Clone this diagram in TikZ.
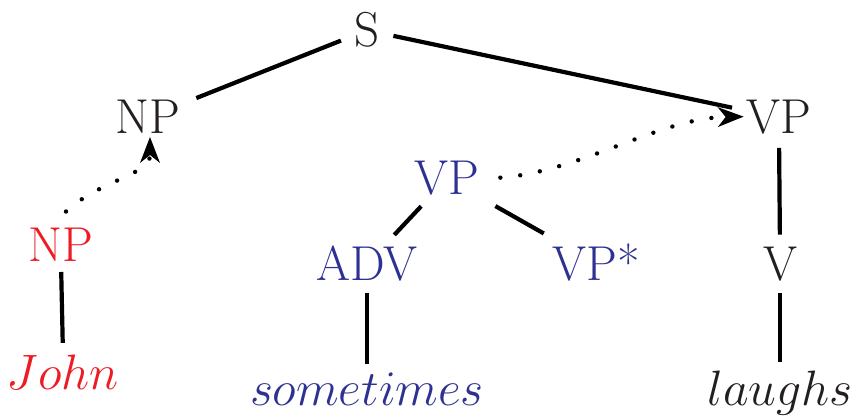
\documentclass[tikz,border=0pt]{standalone}
\usetikzlibrary{arrows.meta}
\definecolor{tred}{RGB}{237,28,36}
\definecolor{tblue}{RGB}{46,49,146}
\definecolor{tblack}{RGB}{35,31,32}
\begin{document}
\begin{tikzpicture}[x=0.5pt,y=-0.5pt,
  lab/.style={anchor=base,inner sep=0pt,outer sep=0pt,font=\fontsize{24.5}{28}\selectfont},
  edge/.style={line width=2.1pt,black},
  dots/.style={line width=2.2pt,line cap=round,dash pattern=on 0pt off 10pt,black},
  tip/.style={-{Stealth[length=13pt,width=10pt,inset=4pt,line width=0pt]}}]
\useasboundingbox (0,0) rectangle (853,416);
% nodes (placed at their baselines)
\node[lab,text=tblack] (S)   at (367,47)  {S};
\node[lab,text=tblack] (NPb) at (148,134) {NP};
\node[lab,text=tblack] (VPk) at (779,134) {VP};
\node[lab,text=tblue]  (VPb) at (447,195) {VP};
\node[lab,text=tred]   (NPr) at (61,262)  {NP};
\node[lab,text=tblue]  (ADV) at (367,281) {ADV};
\node[lab,text=tblue]  (VPs) at (596,281) {VP*};
\node[lab,text=tblack] (V)   at (780,281) {V};
\node[lab,text=tred]   (John) at (63,390) {$John$};
\node[lab,text=tblue]  (some) at (367,406) {$sometimes$};
\node[lab,text=tblack] (laughs) at (780,406) {$laughs$};
% tree edges
\draw[edge,shorten <=26pt,shorten >=14pt] (NPb.center) -- (S.center);
\draw[edge,shorten <=13.5pt,shorten >=24pt] (S.center) -- (VPk.center);
\draw[edge,shorten <=6.5pt,shorten >=6.5pt] (VPk.south) -- (V.north);
\draw[edge,shorten <=5.5pt,shorten >=4.9pt] (V.south) -- (laughs.north);
\draw[edge,shorten <=5pt,shorten >=6.3pt] (NPr.south) -- (John.north);
\draw[edge,shorten <=5.5pt,shorten >=4.5pt] (ADV.south) -- (some.north);
\draw[edge,shorten <=18.9pt,shorten >=20pt] (VPb.center) -- (ADV.center);
\draw[edge,shorten <=27.8pt,shorten >=30pt] (VPb.center) -- (VPs.center);
% dotted movement arrows
\draw[dots,tip] ([shift={(5,-17)}]NPr.north) .. controls (100,180) and (150,175) .. ([shift={(2,3)}]NPb.south);
\draw[dots,tip] ([shift={(21,-1)}]VPb.east) .. controls (580,172) and (660,118) .. ([shift={(-3,-1)}]VPk.west);
\end{tikzpicture}
\end{document}
